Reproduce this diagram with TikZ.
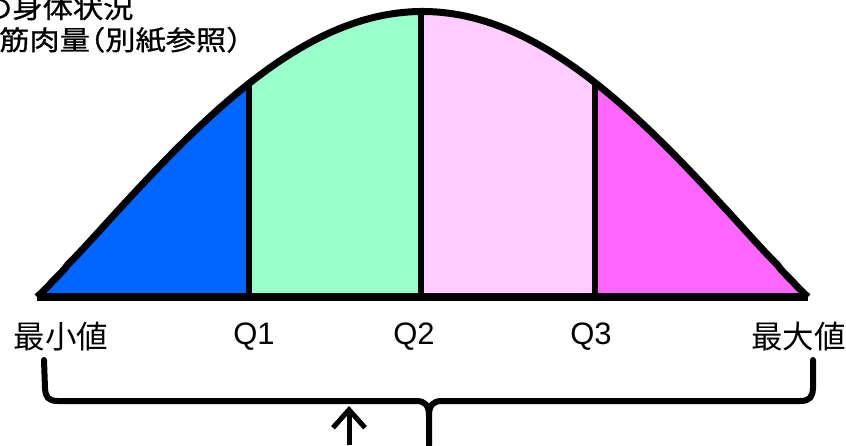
\documentclass[tikz,border=0pt]{standalone}
\usepackage{fontspec}
\setmainfont{Liberation Sans}
\newfontfamily\jp{Noto Sans CJK JP}
\newfontfamily\jptop[FakeStretch=1.12,FakeBold=1]{Noto Sans CJK JP}
\usetikzlibrary{arrows.meta}
\definecolor{cblue}{HTML}{0066FF}
\definecolor{cgreen}{HTML}{99FFCC}
\definecolor{cpink}{HTML}{FFCCFF}
\definecolor{cmag}{HTML}{FF66FF}
\tikzset{
  declare function={bell(\x)=297-285.5*exp(1.06*ln(max(sin((\x-37)/771*180),0.0001)));},
  curveline/.style={line width=7pt, line join=round},
  divider/.style={line width=5.5pt},
  lbl/.style={font=\fontsize{31}{33}\selectfont, inner sep=0pt, anchor=center},
  jplbl/.style={font=\jp\fontsize{31.5}{33}\selectfont, inner sep=0pt, anchor=center},
  toptext/.style={font=\jptop\fontsize{27}{30}\selectfont, inner sep=0pt, anchor=base west},
  brace/.style={line width=6pt, line cap=round, line join=round},
}
\begin{document}
\begin{tikzpicture}[x=1pt,y=-1pt]
\useasboundingbox (0,0) rectangle (846,445);
\begin{scope}
\clip (0,0) rectangle (846,445);
% fills
\fill[cblue] (37,297) -- plot[domain=37:249,samples=60,smooth] (\x,{bell(\x)}) -- (249,297) -- cycle;
\fill[cgreen] (249,297) -- plot[domain=249:421,samples=50,smooth] (\x,{bell(\x)}) -- (421,297) -- cycle;
\fill[cpink] (421,297) -- plot[domain=421:595,samples=50,smooth] (\x,{bell(\x)}) -- (595,297) -- cycle;
\fill[cmag] (595,297) -- plot[domain=595:808,samples=60,smooth] (\x,{bell(\x)}) -- (808,297) -- cycle;
% dividers
\coordinate (b1) at (249,297);
\coordinate (t1) at (249,{bell(249)});
\coordinate (b2) at (421,297);
\coordinate (t2) at (421,{bell(421)});
\coordinate (b3) at (595,297);
\coordinate (t3) at (595,{bell(595)});
\draw[divider] (b1) -- (t1);
\draw[divider] (b2) -- (t2);
\draw[divider] (b3) -- (t3);
% curve
\draw[curveline] plot[domain=37:808,samples=200,smooth] (\x,{bell(\x)});
% baseline
\coordinate (bl) at (37,297);
\coordinate (br) at (808,297);
\draw[line width=8pt] (bl) -- (br);
% labels
\node[jplbl] (min) at (61,337) {最小値};
\node[lbl] (q1) at (254,337) {Q1};
\node[lbl] (q2) at (414,337) {Q2};
\node[lbl] (q3) at (591,337) {Q3};
\node[jplbl] (max) at (798.5,337) {最大値};
% top text
\node[toptext] (t1line) at (-18,18) {の身体状況};
\node[toptext] (t2line) at (-1,50) {筋肉量\kern-0.55em（別紙参照）};
% brace
\coordinate (bL) at (44,360);
\coordinate (bR) at (813,360);
\coordinate (bM) at (429,445);
\draw[brace] (bL) -- (45,388) .. controls (45.5,397) and (48,401) .. (58,401)
  -- (416,401) .. controls (425,401) and (429,405) .. (429,416) -- (bM);
\draw[brace] (429,416) .. controls (429,405) and (433,401) .. (442,401)
  -- (800,401) .. controls (810,401) and (812.5,397) .. (813,388) -- (bR);
% arrow
\coordinate (aT) at (349,406);
\coordinate (aB) at (349,445);
\draw[line width=5pt, -{Straight Barb[length=18pt,width=32pt,line width=5pt]}] (aB) -- (aT);
\end{scope}
\end{tikzpicture}
\end{document}
